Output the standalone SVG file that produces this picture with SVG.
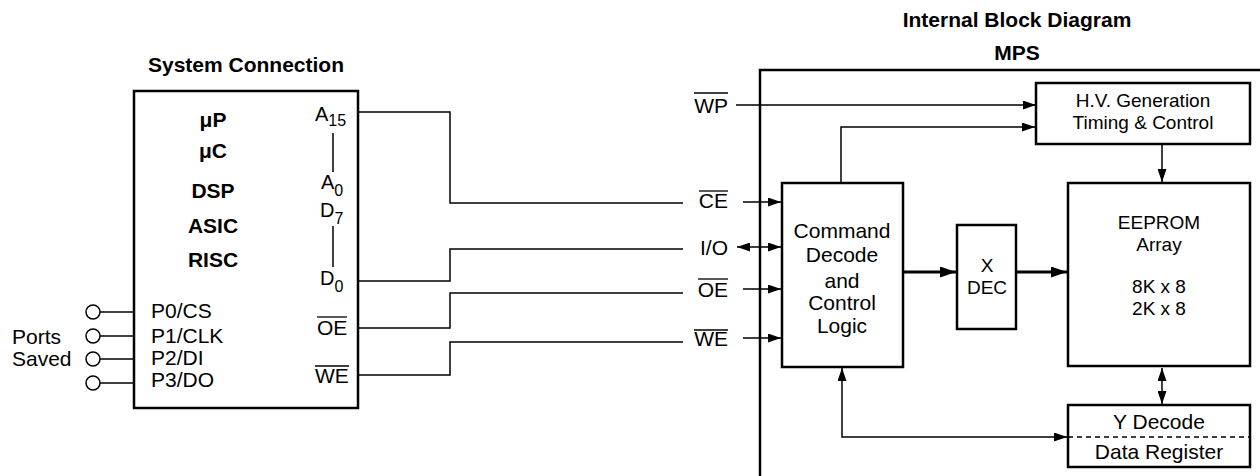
<svg xmlns="http://www.w3.org/2000/svg" width="1260" height="476" viewBox="0 0 1260 476">
<defs>
<style>
text{font-family:"Liberation Sans",Arial,sans-serif;font-size:21px;fill:#000}
.b{font-weight:bold}
.m{text-anchor:middle}
.e{text-anchor:end}
.s{font-size:19px}
.box{fill:#fff;stroke:#000;stroke-width:2.5}
.w{fill:none;stroke:#000;stroke-width:1.5}
.tk{fill:none;stroke:#000;stroke-width:3}
.ol{stroke:#000;stroke-width:1.3}
</style>
<marker id="ah" markerUnits="userSpaceOnUse" markerWidth="13" markerHeight="9" viewBox="0 0 13 9" refX="13" refY="4.5" orient="auto-start-reverse"><path d="M0,0 L13,4.5 L0,9 z" fill="#000"/></marker>
<marker id="ahb" markerUnits="userSpaceOnUse" markerWidth="16" markerHeight="11" viewBox="0 0 16 11" refX="16" refY="5.5" orient="auto"><path d="M0,0 L16,5.5 L0,11 z" fill="#000"/></marker>
</defs>

<text class="b m" x="246" y="72">System Connection</text>
<text class="b m" x="1017" y="27">Internal Block Diagram</text>
<text class="b m" x="1017" y="60">MPS</text>

<g id="system">
<rect class="box" x="134" y="91" width="224" height="317"/>
<text class="b m" x="213" y="127">μP</text>
<text class="b m" x="213" y="158">μC</text>
<text class="b m" x="213" y="198">DSP</text>
<text class="b m" x="213" y="233">ASIC</text>
<text class="b m" x="213" y="267">RISC</text>
<text x="315" y="121" style="font-size:20px">A<tspan dy="5" style="font-size:16px">15</tspan></text>
<line class="w" x1="333" y1="133" x2="333" y2="172"/>
<text x="321" y="189" style="font-size:20px">A<tspan dy="7" style="font-size:16px">0</tspan></text>
<text x="320" y="217" style="font-size:20px">D<tspan dy="7" style="font-size:16px">7</tspan></text>
<line class="w" x1="333" y1="226" x2="333" y2="267"/>
<text x="320" y="285" style="font-size:20px">D<tspan dy="7" style="font-size:16px">0</tspan></text>
<text x="317" y="335">OE</text>
<line class="ol" x1="317" y1="317" x2="347" y2="317"/>
<text x="315" y="383">WE</text>
<line class="ol" x1="315" y1="366" x2="349" y2="366"/>
<text x="151" y="318">P0/CS</text>
<text x="151" y="343">P1/CLK</text>
<text x="151" y="365">P2/DI</text>
<text x="151" y="387">P3/DO</text>
</g>

<g id="ports">
<text x="12" y="344">Ports</text>
<text x="12" y="366">Saved</text>
<circle class="w" cx="93" cy="312" r="7"/>
<circle class="w" cx="93" cy="336" r="7"/>
<circle class="w" cx="93" cy="359" r="7"/>
<circle class="w" cx="93" cy="383" r="7"/>
<line class="w" x1="100" y1="312" x2="134" y2="312"/>
<line class="w" x1="100" y1="336" x2="134" y2="336"/>
<line class="w" x1="100" y1="359" x2="134" y2="359"/>
<line class="w" x1="100" y1="383" x2="134" y2="383"/>
</g>

<g id="mps">
<path d="M1262,70 H760 V478" fill="none" stroke="#000" stroke-width="2.5"/>
</g>

<g id="pinlabels">
<text class="e" x="728" y="113">WP</text>
<line class="ol" x1="694" y1="93" x2="728" y2="93"/>
<text class="e" x="728" y="208">CE</text>
<line class="ol" x1="699" y1="191" x2="728" y2="191"/>
<text class="e" x="728" y="255">I/O</text>
<text class="e" x="728" y="297">OE</text>
<line class="ol" x1="698" y1="279" x2="728" y2="279"/>
<text class="e" x="728" y="346">WE</text>
<line class="ol" x1="694" y1="330" x2="728" y2="330"/>
</g>

<g id="hv">
<rect class="box" x="1036" y="83" width="214" height="61"/>
<text class="m s" x="1143" y="107">H.V. Generation</text>
<text class="m s" x="1143" y="129">Timing &amp; Control</text>
</g>

<g id="cmd">
<rect class="box" x="782" y="183" width="121" height="184"/>
<text class="m" x="842" y="238">Command</text>
<text class="m" x="842" y="262">Decode</text>
<text class="m" x="842" y="288">and</text>
<text class="m" x="842" y="310">Control</text>
<text class="m" x="842" y="333">Logic</text>
</g>

<g id="xdec">
<rect class="box" x="957" y="225" width="59" height="104"/>
<text class="m s" x="987" y="272">X</text>
<text class="m s" x="987" y="294">DEC</text>
</g>

<g id="eeprom">
<rect class="box" x="1068" y="183" width="182" height="183"/>
<text class="m s" x="1159" y="229">EEPROM</text>
<text class="m s" x="1159" y="251">Array</text>
<text class="m s" x="1159" y="293">8K x 8</text>
<text class="m s" x="1159" y="315">2K x 8</text>
</g>

<g id="ydec">
<rect class="box" x="1068" y="405" width="182" height="62"/>
<line x1="1068" y1="437" x2="1250" y2="437" stroke="#000" stroke-width="1.3" stroke-dasharray="5,4"/>
<text class="m" x="1159" y="429">Y Decode</text>
<text class="m" x="1159" y="459">Data Register</text>
</g>

<g id="connectors">
<polyline class="w" points="358,112 450,112 450,203 683,203"/>
<polyline class="w" points="358,281 450,281 450,249 683,249"/>
<polyline class="w" points="358,328 450,328 450,293 683,293"/>
<polyline class="w" points="358,375 450,375 450,342 683,342"/>
<line class="w" x1="736" y1="105" x2="1036" y2="105" marker-end="url(#ah)"/>
<polyline class="w" points="841,183 841,127 1035,127" marker-end="url(#ah)"/>
<line class="w" x1="1162" y1="144" x2="1162" y2="182" marker-end="url(#ah)"/>
<line class="w" x1="743" y1="202" x2="781" y2="202" marker-end="url(#ah)"/>
<line class="w" x1="737" y1="247" x2="781" y2="247" marker-start="url(#ah)" marker-end="url(#ah)"/>
<line class="w" x1="743" y1="289" x2="781" y2="289" marker-end="url(#ah)"/>
<line class="w" x1="743" y1="338" x2="781" y2="338" marker-end="url(#ah)"/>
<line class="tk" x1="904" y1="272" x2="956" y2="272" marker-end="url(#ahb)"/>
<line class="tk" x1="1017" y1="272" x2="1067" y2="272" marker-end="url(#ahb)"/>
<line class="w" x1="1162" y1="368" x2="1162" y2="404" marker-start="url(#ah)" marker-end="url(#ah)"/>
<polyline class="w" points="842,368 842,437 1067,437" marker-start="url(#ah)" marker-end="url(#ah)"/>
</g>
</svg>
